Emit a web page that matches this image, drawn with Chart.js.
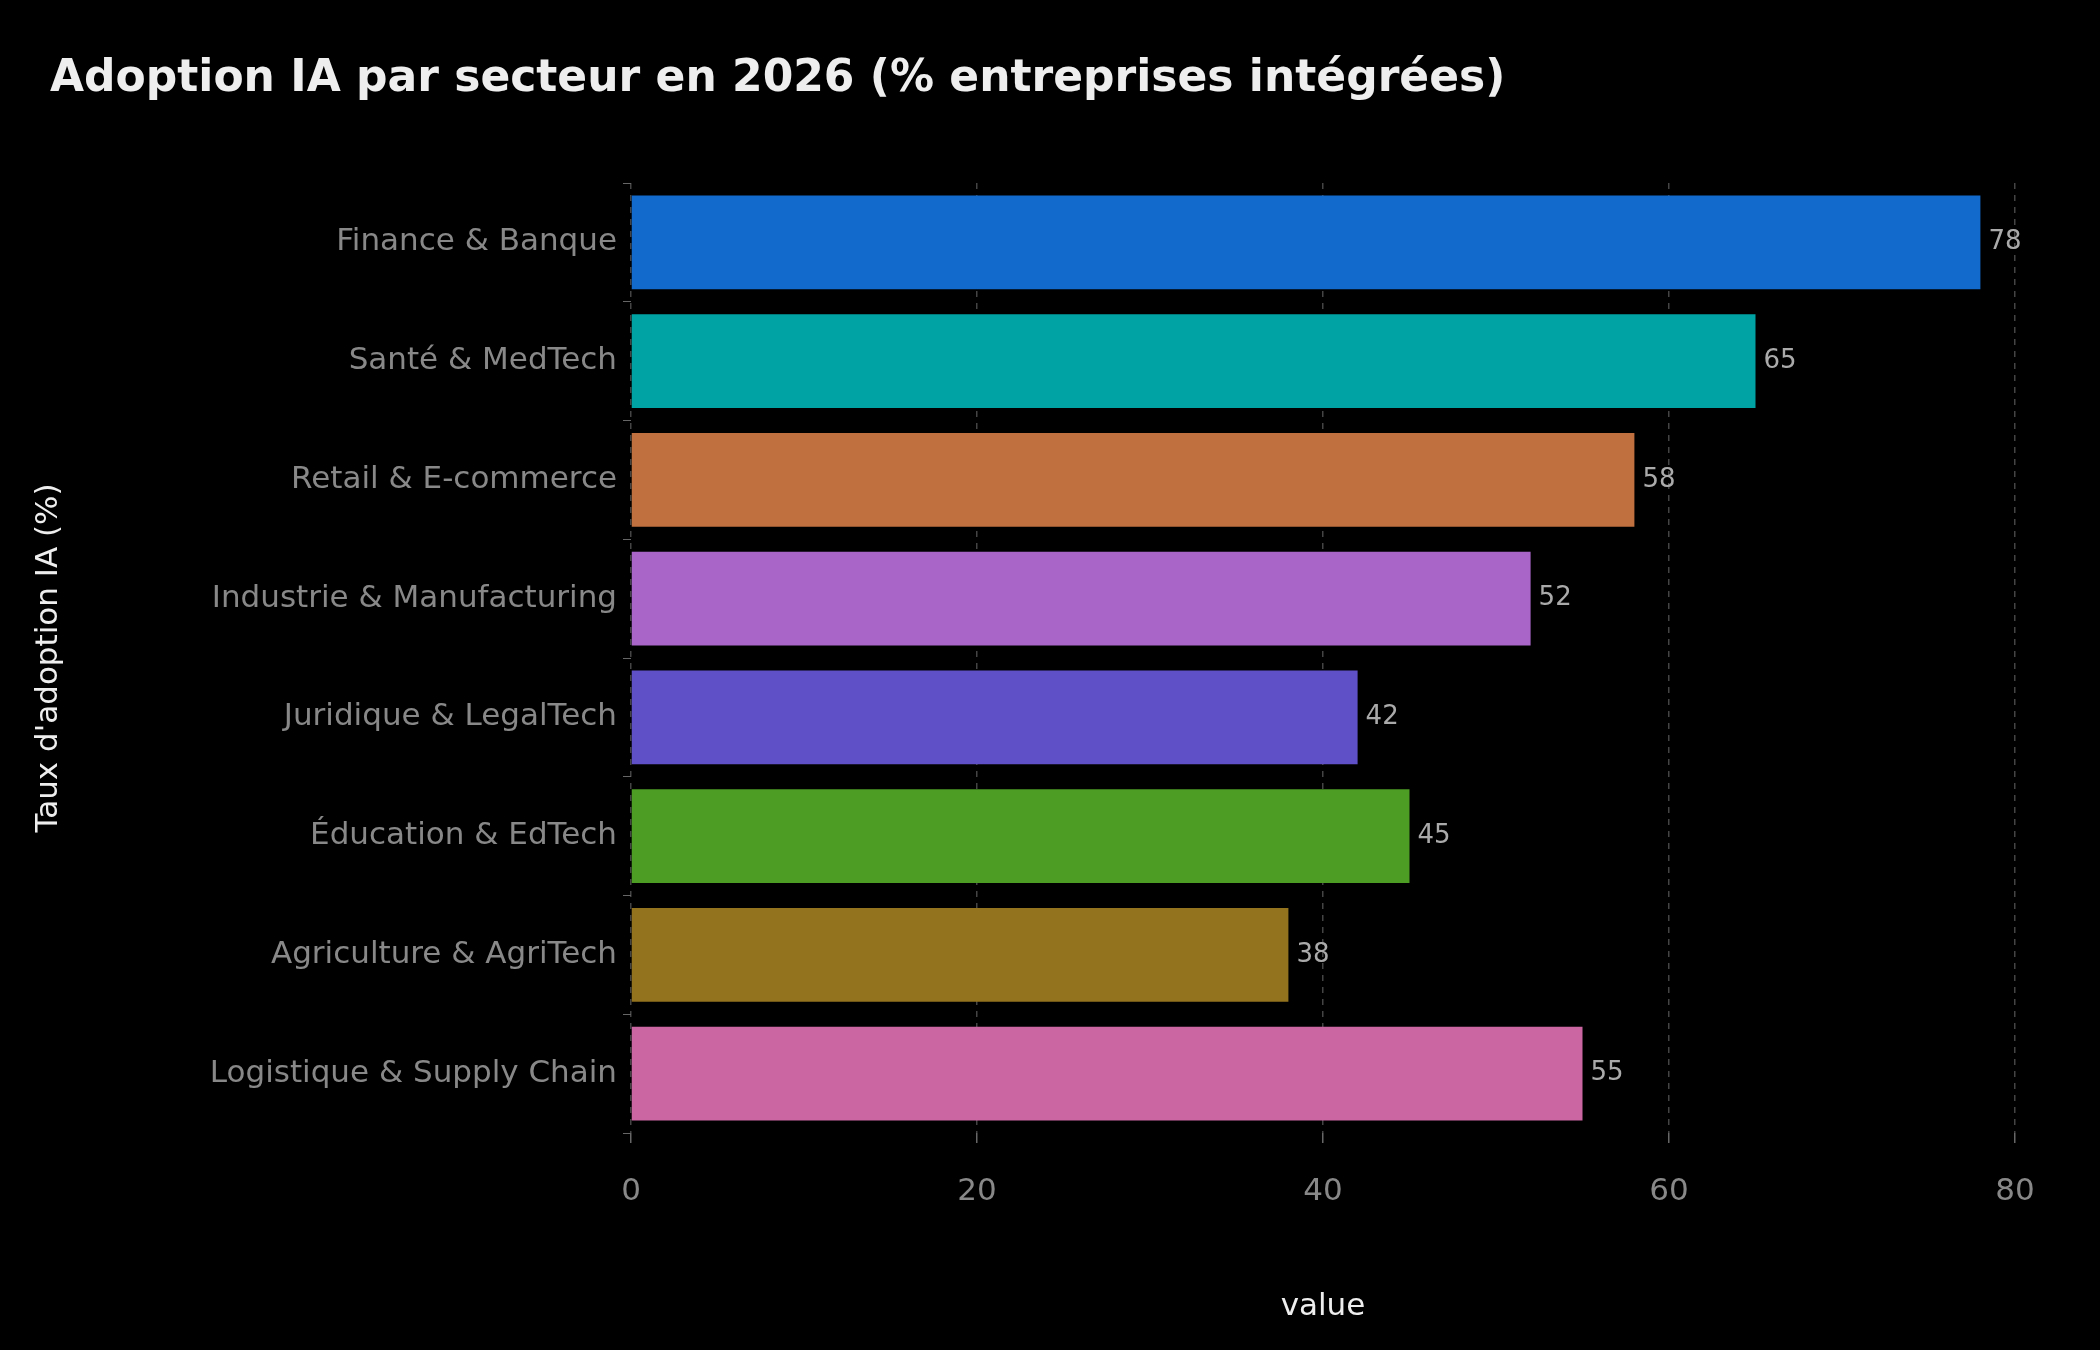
<!DOCTYPE html>
<html><head><meta charset="utf-8">
<script src="https://cdn.jsdelivr.net/npm/chart.js@4"></script>
<style>html,body{margin:0;padding:0;background:#000}#wrap{width:2100px;height:1350px}</style>
</head><body><div id="wrap"><canvas id="c" width="2100" height="1350"></canvas></div>
<script>
const categories = ["Finance & Banque","Santé & MedTech","Retail & E-commerce","Industrie & Manufacturing","Juridique & LegalTech","Éducation & EdTech","Agriculture & AgriTech","Logistique & Supply Chain"];
const values = [78,65,58,52,42,45,38,55];
const colors = ["#116ACC","#00A3A3","#C06F3F","#A966C8","#6050C8","#4D9C24","#94731E","#CB66A3"];
const xTicks = [0,20,40,60,80];
const titleText = "Adoption IA par secteur en 2026 (% entreprises intégrées)";
const FONT = "DejaVu Sans";

const extras = {
  id:'extras',
  afterDatasetsDraw(chart){
    const ctx = chart.ctx, x = chart.scales.x, y = chart.scales.y;
    ctx.save();
    ctx.font = `26px "${FONT}"`; ctx.fillStyle = "#aaaaaa";
    ctx.textBaseline = "middle"; ctx.textAlign = "left";
    values.forEach((v,i)=>ctx.fillText(String(v), x.getPixelForValue(v)+8, y.getPixelForValue(i)));
    ctx.font = `bold 44px "${FONT}"`; ctx.fillStyle = "#eeeeee";
    ctx.textBaseline = "middle";
    ctx.fillText(titleText, 50, 80);
    ctx.restore();
  }
};

new Chart(document.getElementById('c'), {
  type:'bar',
  data:{labels:categories, datasets:[{data:values, backgroundColor:colors, borderWidth:0, categoryPercentage:0.79, barPercentage:1}]},
  options:{
    indexAxis:'y', responsive:false, animation:false,
    layout:{padding:{top:183,left:30,right:85,bottom:20}},
    plugins:{legend:{display:false}, tooltip:{enabled:false}},
    scales:{
      x:{min:0,max:80,
        afterBuildTicks(s){s.ticks = xTicks.map(v=>({value:v}));},
        afterFit(s){s.height = 197;},
        grid:{color:"#444444", lineWidth:1.5, tickLength:10, tickColor:"#666"},
        border:{display:false, dash:[6,6]},
        ticks:{color:"#888888", font:{family:FONT,size:31}, padding:30},
        title:{display:true, text:"value", color:"#eeeeee", font:{family:FONT,size:31}, padding:{top:28}}
      },
      y:{
        afterFit(s){s.width = 601;},
        grid:{drawOnChartArea:false, color:"#666", tickLength:8},
        border:{display:false},
        ticks:{color:"#888888", font:{family:FONT,size:31}, padding:6},
        title:{display:true, text:"Taux d'adoption IA (%)", color:"#eeeeee", font:{family:FONT,size:31}, padding:0}
      }
    }
  },
  plugins:[extras,{id:'bg',beforeDraw(c){c.ctx.save();c.ctx.fillStyle='#000';c.ctx.fillRect(0,0,c.width,c.height);c.ctx.restore();}}]
});
// dashed x grid
Chart.defaults.borderColor = "#444";
</script>
<script>
// make gridlines dashed
const ch = Chart.getChart('c'); ch.options.scales.x.border.dash=[6,6]; ch.options.scales.x.grid.borderDash=[6,6]; ch.update('none');
</script>
</body></html>
